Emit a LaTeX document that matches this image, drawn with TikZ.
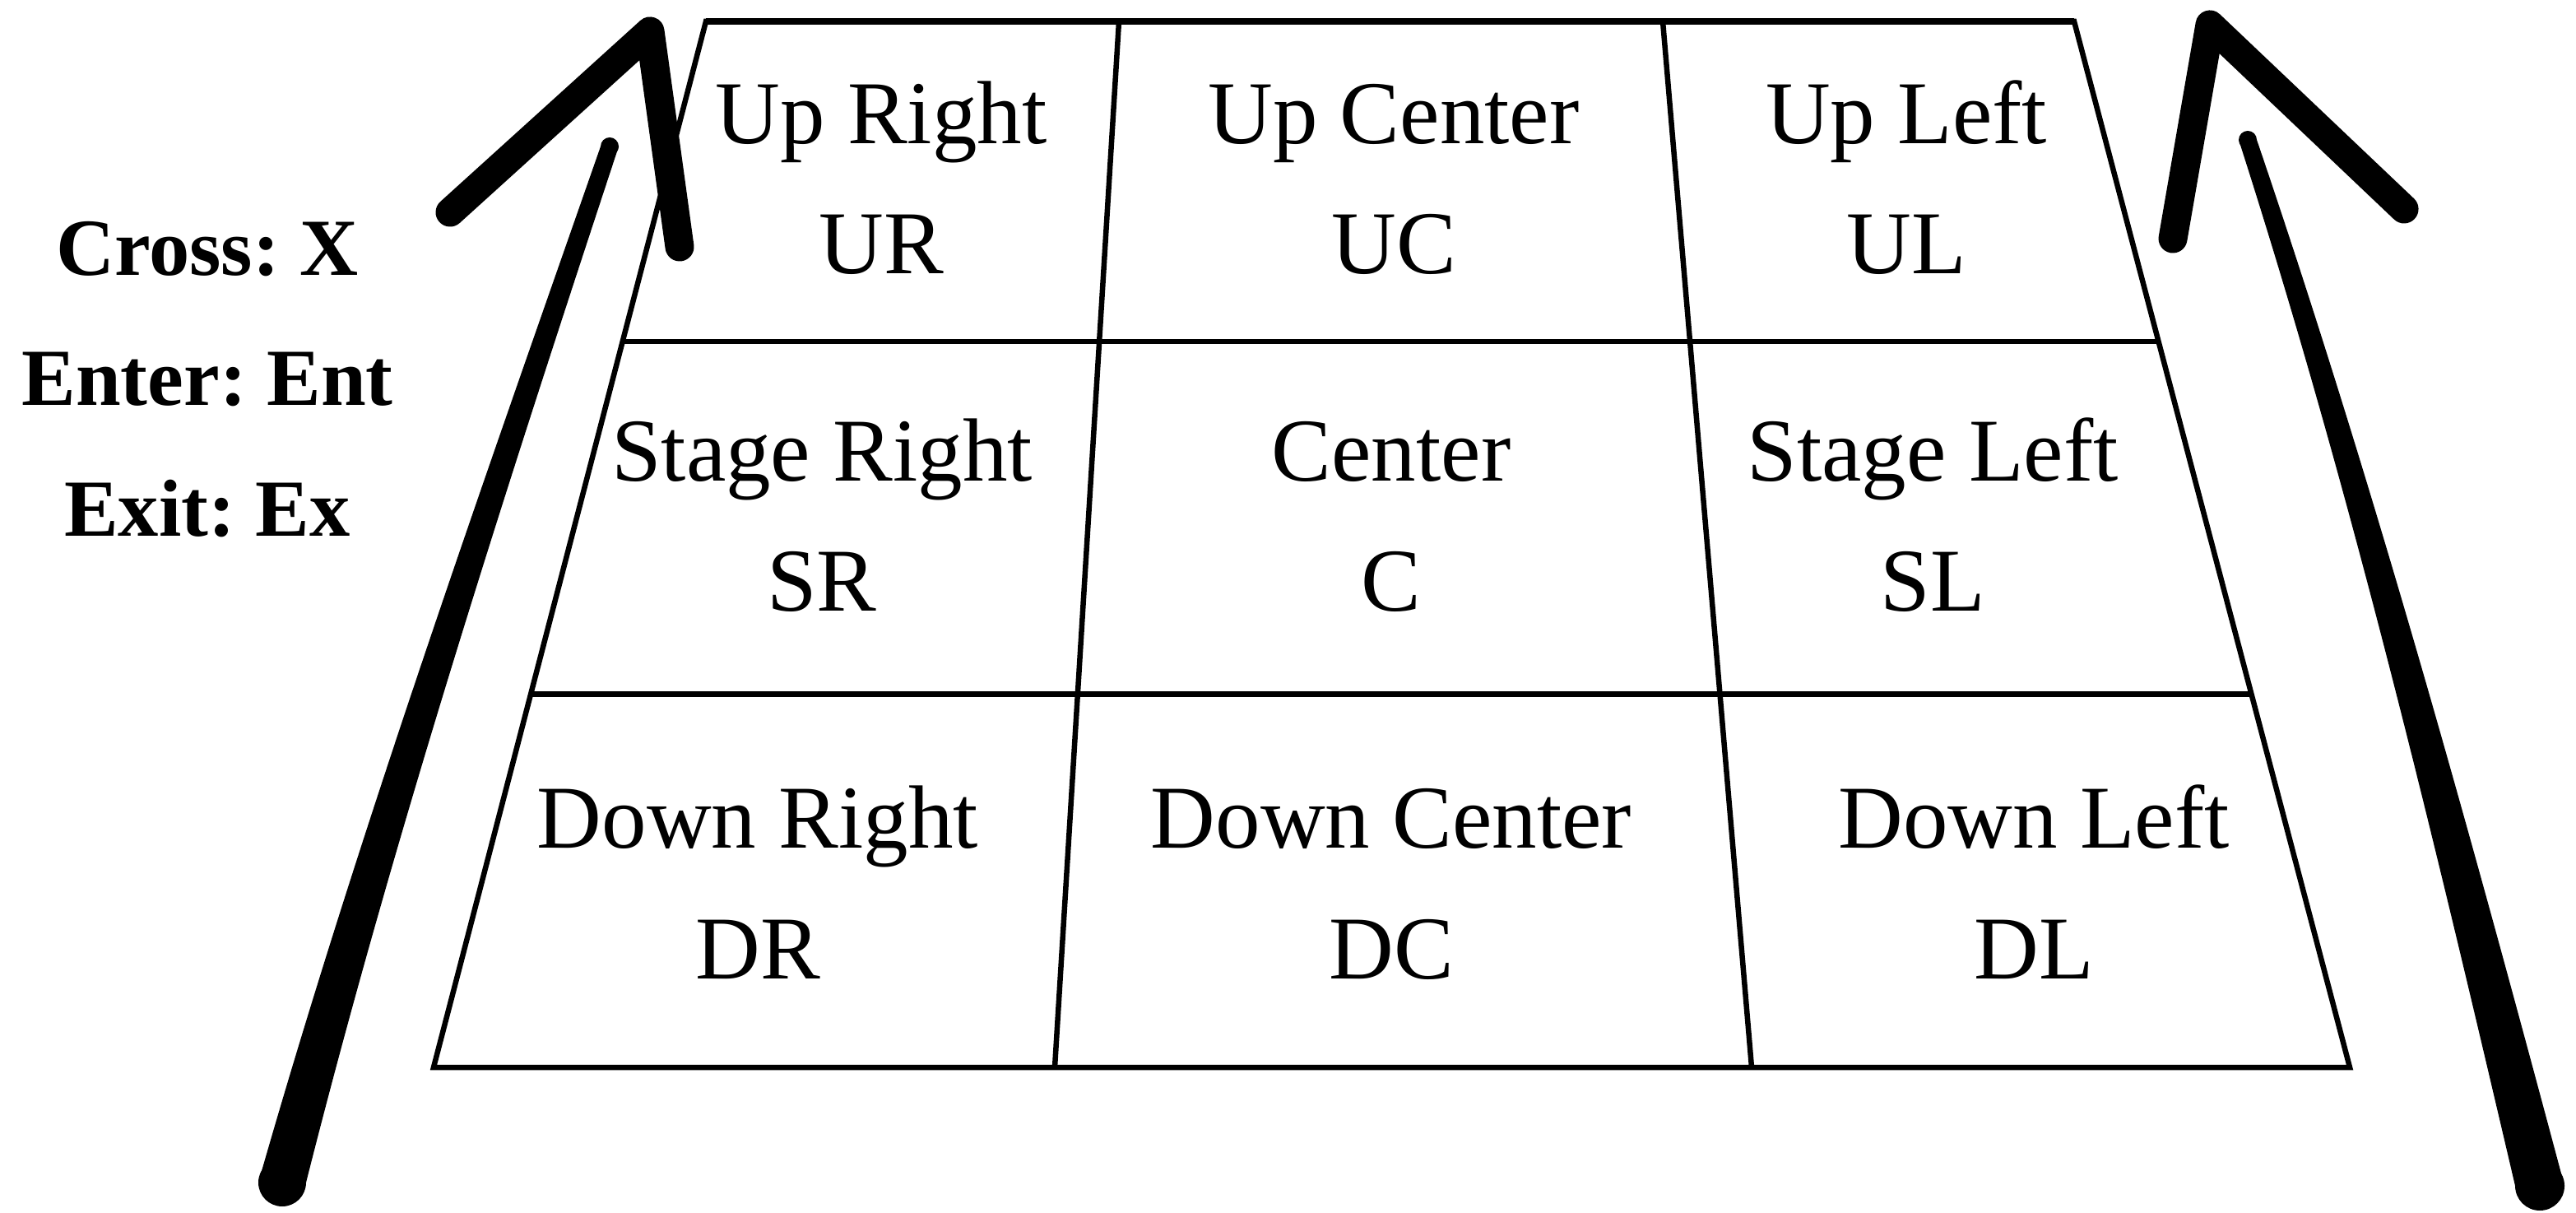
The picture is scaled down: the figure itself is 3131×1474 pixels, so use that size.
\documentclass[tikz,border=0pt]{standalone}
\usepackage{fontspec}
\setmainfont{Liberation Serif}
\usetikzlibrary{calc}
\frenchspacing

\begin{document}
\begin{tikzpicture}[x=0.01cm, y=-0.01cm,
  gridline/.style={line width=0.065cm},
  cellname/.style={anchor=base, inner sep=0pt, font=\fontsize{31}{37}\selectfont},
  legend/.style={anchor=base, inner sep=0pt, font=\bfseries\fontsize{28}{34}\selectfont},
  brush/.style={line width=0.35cm, line cap=round, line join=round}]
\useasboundingbox (0,0) rectangle (3131,1474);
\def\rowa{0.306}
\def\rowb{0.643}

\coordinate (TL) at (858,26);
\coordinate (TR) at (2521,26);
\coordinate (BL) at (527,1297);
\coordinate (BR) at (2856,1297);
\coordinate (T1) at (1360,26);
\coordinate (B1) at (1282,1297);
\coordinate (T2) at (2021,26);
\coordinate (B2) at (2129,1297);
\coordinate (L1) at ($(TL)!\rowa!(BL)$);
\coordinate (R1) at ($(TR)!\rowa!(BR)$);
\coordinate (L2) at ($(TL)!\rowb!(BL)$);
\coordinate (R2) at ($(TR)!\rowb!(BR)$);

% stage floor
\draw[gridline] (TL) -- (TR) -- (BR) -- (BL) -- cycle;
\draw[gridline, line width=0.08cm] (TL) -- (TR);
\draw[gridline] (L1) -- (R1) (L2) -- (R2);
\draw[gridline] (T1) -- (B1) (T2) -- (B2);

\foreach \x/\y/\name/\abbr in {1071/175/Up Right/UR, 1694/175/Up Center/UC, 2317/175/Up Left/UL,
    999/585/Stage Right/SR, 1691/585/Center/C, 2349/585/Stage Left/SL,
    921/1031/Down Right/DR, 1691/1031/Down Center/DC, 2472/1031/Down Left/DL}{
  \node[cellname] (\abbr-name) at (\x,\y) {\name};
  \node[cellname] (\abbr) at (\x,\y+158) {\abbr};
}

\node[legend] (cross) at (252,335) {Cross: X};
\node[legend] (enter) at (252,493) {Enter: Ent};
\node[legend] (exit) at (252,652) {Exit: Ex};

% left arrow
\fill (314,1437) .. controls (434,1017) and (586,590) .. (730,178)
  -- (752,178) .. controls (616,590) and (478,1017) .. (372,1437) -- cycle;
\fill (343,1437) circle[radius=29];
\fill (741,178) circle[radius=11];
\draw[brush] (547,258) -- (790,38) -- (826,300);

% right arrow
\fill (2721,170) .. controls (2857,593) and (2958,1018) .. (3057,1441)
  -- (3117,1441) .. controls (3004,1018) and (2887,593) .. (2743,170) -- cycle;
\fill (3087,1441) circle[radius=30];
\fill (2732,170) circle[radius=11];
\draw[brush] (2641,290) -- (2686,30) -- (2922,254);
\end{tikzpicture}
\end{document}
